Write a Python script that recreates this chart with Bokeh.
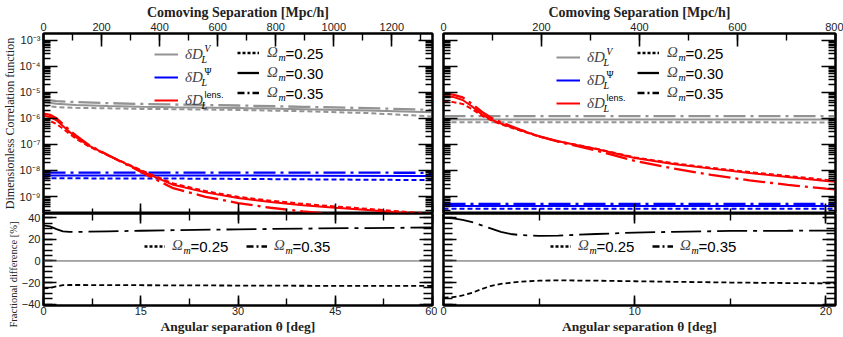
import numpy as np
from bokeh.plotting import figure
from bokeh.layouts import gridplot
from bokeh.models import (Range1d, LinearAxis, LogAxis, FixedTicker, SingleIntervalTicker,
                          CustomJSTickFormatter, Legend, LegendItem, Label, Span, Grid, Title)
from bokeh.core.properties import value
from bokeh.embed import file_html
from bokeh.resources import INLINE

# ------------------------------------------------------------------ data
# values of the correlation functions are given as log10
# ---- left panel (theta in deg)
theta_L = [0, 1, 2, 3, 4, 5, 7, 10, 13, 16, 20, 25, 30, 35, 40, 45, 50, 55, 60]
lens_L_025 = [-6.05, -6.10, -6.22, -6.40, -6.60, -6.78, -7.08, -7.43, -7.76, -8.09, -8.50,
              -8.79, -9.01, -9.16, -9.28, -9.38, -9.47, -9.57, -9.67]
lens_L_030 = [-5.90, -5.95, -6.08, -6.30, -6.52, -6.72, -7.05, -7.42, -7.78, -8.12, -8.55,
              -8.84, -9.06, -9.21, -9.33, -9.43, -9.52, -9.62, -9.72]
lens_L_035 = [-5.82, -5.87, -6.00, -6.22, -6.45, -6.66, -7.02, -7.42, -7.80, -8.18, -8.68,
              -9.01, -9.25, -9.43, -9.57, -9.68, -9.78, -9.88, -9.97]
theta_Lg = [0, 2, 5, 10, 15, 20, 30, 40, 50, 60]
vel_L_025 = [-5.52, -5.57, -5.60, -5.62, -5.64, -5.65, -5.68, -5.73, -5.80, -5.93]
vel_L_030 = [-5.38, -5.44, -5.49, -5.53, -5.56, -5.58, -5.61, -5.65, -5.70, -5.77]
vel_L_035 = [-5.28, -5.34, -5.38, -5.42, -5.45, -5.47, -5.51, -5.56, -5.61, -5.68]
theta_Lb = [0, 20, 40, 60]
pot_L_025 = [-8.30, -8.31, -8.34, -8.37]
pot_L_030 = [-8.19, -8.19, -8.20, -8.21]
pot_L_035 = [-8.08, -8.08, -8.08, -8.09]
theta_Lf = [0, 1, 2, 3, 4, 6, 10, 15, 20, 30, 40, 50, 60]
frac_L_025 = [-25.3, -25.0, -23.5, -22.5, -22.3, -22.3, -22.4, -22.5, -22.6, -22.8, -23.0, -23.1, -23.2]
frac_L_035 = [33.0, 32.0, 29.5, 27.5, 27.0, 27.0, 27.5, 28.0, 28.5, 29.3, 30.0, 30.5, 31.0]

# ---- right panel (theta in deg)
theta_R = [0, 0.5, 1, 1.5, 2, 2.5, 3, 4, 5, 6, 7, 8, 10, 12, 14, 16, 18, 20, 20.5]
lens_R_025 = [-5.35, -5.38, -5.45, -5.65, -5.90, -6.08, -6.23, -6.47, -6.70, -6.88, -7.02,
              -7.17, -7.50, -7.72, -7.90, -8.06, -8.21, -8.36, -8.39]
lens_R_030 = [-5.15, -5.18, -5.30, -5.55, -5.85, -6.05, -6.20, -6.45, -6.69, -6.88, -7.03,
              -7.18, -7.52, -7.75, -7.93, -8.10, -8.25, -8.40, -8.43]
lens_R_035 = [-5.06, -5.09, -5.20, -5.45, -5.75, -5.98, -6.15, -6.43, -6.69, -6.90, -7.07,
              -7.24, -7.63, -7.92, -8.17, -8.38, -8.55, -8.70, -8.73]
theta_Rg = [0, 10, 20.5]
vel_R_025 = [-6.15, -6.15, -6.16]
vel_R_030 = [-6.05, -6.05, -6.05]
vel_R_035 = [-5.92, -5.92, -5.92]
pot_R_025 = [-9.47, -9.47, -9.47]
pot_R_030 = [-9.36, -9.36, -9.36]
pot_R_035 = [-9.28, -9.28, -9.28]
theta_Rf = [0, 0.5, 1, 1.5, 2, 2.5, 3, 3.5, 4, 5, 6, 8, 10, 12, 15, 18, 20.5]
frac_R_025 = [-34.0, -33.5, -32.0, -29.5, -26.0, -23.0, -21.3, -20.2, -19.3, -18.3, -18.0,
              -18.3, -18.8, -19.3, -20.0, -20.5, -20.8]
frac_R_035 = [40.0, 39.5, 38.0, 36.0, 33.0, 30.0, 27.0, 25.0, 24.0, 23.3, 23.5, 25.0,
              26.3, 27.0, 27.8, 28.0, 28.2]

omega_labels = ["0.25", "0.30", "0.35"]
quantity_sups = ["V", "Ψ", "lens."]
log_major = [10.0 ** e for e in range(-9, -2)]
log_minor = [k * 10.0 ** e for e in range(-10, -2) for k in range(2, 10)]

# ------------------------------------------------------------------ styles
GREY, BLUE, RED = "#939393", "#0000ff", "#ff0000"
DASH = {"0.25": "5 3", "0.30": "solid", "0.35": "22 5 3 5"}
FRAC_DASH = {"0.25": "5 3", "0.35": "30 6 4 6"}
LEG_DASH = {"0.25": "3 2", "0.30": "solid", "0.35": "7 3 2 3"}
TICKFONT = "Liberation Sans"
SERIF = "Liberation Serif"

LOG_FMT = CustomJSTickFormatter(code="""
const sup = {"-":"\u207b","0":"\u2070","1":"\u00b9","2":"\u00b2","3":"\u00b3","4":"\u2074",
             "5":"\u2075","6":"\u2076","7":"\u2077","8":"\u2078","9":"\u2079"};
const e = Math.round(Math.log10(tick));
return "10" + String(e).split("").map(c => sup[c]).join("");
""")


def style_axis(ax, labels, major_in=12, minor_in=6, standoff=2):
    ax.major_tick_in = major_in
    ax.major_tick_out = 0
    ax.minor_tick_in = minor_in
    ax.minor_tick_out = 0
    ax.axis_line_color = "black"
    ax.axis_line_width = 2
    ax.major_tick_line_color = "black"
    ax.major_tick_line_width = 1.6
    ax.minor_tick_line_color = "black"
    ax.minor_tick_line_width = 1.4
    if labels:
        ax.major_label_text_font = TICKFONT
        ax.major_label_text_font_size = "11px"
        ax.major_label_text_color = "#222222"
        ax.major_label_standoff = standoff
    else:
        ax.major_label_text_font_size = "1px"
        ax.major_label_text_color = None
        ax.major_label_standoff = 0


def axis_title(ax, text, size, standoff=1, bold=True):
    ax.axis_label = text
    ax.axis_label_text_font = SERIF
    ax.axis_label_text_font_size = size
    ax.axis_label_text_font_style = "bold" if bold else "normal"
    ax.axis_label_text_color = "#222222"
    ax.axis_label_standoff = standoff


def base_fig(width, height, xr, yr, ylog, bl, br, bt, bb):
    p = figure(width=width, height=height, x_range=xr, y_range=yr,
               y_axis_type="log" if ylog else "linear",
               x_axis_location=None, y_axis_location=None,
               toolbar_location=None, output_backend="svg",
               min_border_left=bl, min_border_right=br,
               min_border_top=bt, min_border_bottom=bb,
               outline_line_color="black", outline_line_width=2,
               background_fill_color="white", border_fill_color="white")
    for r in p.center:
        if isinstance(r, Grid):
            r.visible = False
    return p


def lab(p, x, y, text, size, font=SERIF, style="normal", align="left", baseline="middle",
        color="black"):
    p.add_layout(Label(x=x, y=y, x_units="screen", y_units="screen", text=text,
                       text_font=font, text_font_size=size, text_font_style=style,
                       text_align=align, text_baseline=baseline, text_color=color))


def side_title(p, text, size, align, offset):
    p.add_layout(Title(text=text, align=align, offset=offset, standoff=0,
                       text_font=SERIF, text_font_size=size, text_font_style="normal",
                       text_color="#222222"), "left")


TOP_FH, BOT_FH = 180, 92
TOP_BT, BOT_BB = 33, 32


def top_panel(width, bl, br, xmax, cmax, theta, lens, theta_g, vel, theta_b, pot,
              show_ylabels, leg1, leg2_x):
    p = base_fig(width, TOP_BT + TOP_FH, Range1d(0, xmax),
                 Range1d(10 ** -9.65, 10 ** -2.75), True, bl, br, TOP_BT, 0)
    p.extra_x_ranges = {"com": Range1d(0, cmax)}
    ax = LogAxis(ticker=FixedTicker(ticks=log_major, minor_ticks=log_minor))
    style_axis(ax, show_ylabels, 14, 7, 3)
    if show_ylabels:
        ax.formatter = LOG_FMT
    p.add_layout(ax, "left")
    ax = LogAxis(ticker=FixedTicker(ticks=log_major, minor_ticks=log_minor))
    style_axis(ax, False, 14, 7)
    p.add_layout(ax, "right")
    step = 15 if xmax > 30 else 10
    ax = LinearAxis(ticker=SingleIntervalTicker(interval=step, num_minor_ticks=2))
    style_axis(ax, False, 10, 5)
    p.add_layout(ax, "below")
    ax = LinearAxis(x_range_name="com", ticker=SingleIntervalTicker(interval=200, num_minor_ticks=2))
    style_axis(ax, True, 13, 7, 3)
    axis_title(ax, "Comoving Separation [Mpc/h]", "14px", 0)
    p.add_layout(ax, "above")
    if show_ylabels:
        side_title(p, "Dimensionless Correlation function", "12px", "center", 0)

    solid = {}
    for color, th, series in ((GREY, theta_g, vel), (BLUE, theta_b, pot), (RED, theta, lens)):
        for om, vals in zip(omega_labels, series):
            r = p.line(th, 10.0 ** np.array(vals), line_color=color,
                       line_width=2.3 if om == "0.35" else 2.0, line_dash=DASH[om])
            if om == "0.30":
                solid[color] = r

    # legend 1 : quantities
    leg1_x, leg1_y = leg1
    items = [LegendItem(label=value("δD"), renderers=[solid[c]]) for c in (GREY, BLUE, RED)]
    leg = Legend(items=items, location=(leg1_x, leg1_y), orientation="vertical",
                 padding=0, margin=0, spacing=3, glyph_width=24, glyph_height=20,
                 label_height=20, label_standoff=7, label_text_font=SERIF,
                 label_text_font_style="italic", label_text_font_size="15px",
                 background_fill_alpha=0, border_line_alpha=0)
    p.add_layout(leg)
    x0 = leg1_x + 24 + 7
    for i, sup in enumerate(quantity_sups):
        rc = leg1_y + 66 - 10 - 23 * i
        lab(p, x0 + 16, rc - 5, "L", "10px", style="italic")
        if sup == "lens.":
            lab(p, x0 + 19, rc + 6, sup, "9px", font=TICKFONT)
        elif sup == "V":
            lab(p, x0 + 19, rc + 6, sup, "9.5px", style="italic")
        else:
            lab(p, x0 + 19, rc + 6, sup, "9.5px")

    # legend 2 : Omega_m (legend-only copies of the lensing curves, hidden in the plot)
    rends = [p.line(theta, 10.0 ** np.array(vals), line_color="black", line_width=2.3,
                    line_dash=LEG_DASH[om], visible=False)
             for om, vals in zip(omega_labels, lens)]
    items = [LegendItem(label=value("Ω"), renderers=[r]) for r in rends]
    leg = Legend(items=items, location=(leg2_x, 112), orientation="vertical",
                 padding=0, margin=0, spacing=3, glyph_width=22, glyph_height=17,
                 label_height=17, label_standoff=8, label_text_font=SERIF,
                 label_text_font_style="italic", label_text_font_size="15px",
                 background_fill_alpha=0, border_line_alpha=0, inactive_fill_alpha=0)
    p.add_layout(leg)
    x0 = leg2_x + 22 + 8
    for i, om in enumerate(omega_labels):
        rc = 160.5 - 20 * i
        lab(p, x0 + 11, rc - 4, "m", "10px", style="italic")
        lab(p, x0 + 18, rc, "=" + om, "15px", font=TICKFONT)
    return p


def bottom_panel(width, bl, br, xmax, theta_f, f25, f35, show_ylabels, leg_x):
    p = base_fig(width, BOT_FH + BOT_BB, Range1d(0, xmax), Range1d(-41.3, 44), False,
                 bl, br, 0, BOT_BB)
    ax = LinearAxis(ticker=SingleIntervalTicker(interval=20, num_minor_ticks=4))
    style_axis(ax, show_ylabels, 13, 9, 3)
    p.add_layout(ax, "left")
    if show_ylabels:
        side_title(p, "Fractional difference [%]", "10.5px", "left", -22)
    ax = LinearAxis(ticker=SingleIntervalTicker(interval=20, num_minor_ticks=4))
    style_axis(ax, False, 13, 9)
    p.add_layout(ax, "right")
    step = 15 if xmax > 30 else 10
    ax = LinearAxis(ticker=SingleIntervalTicker(interval=step, num_minor_ticks=2))
    style_axis(ax, False, 10, 7)
    p.add_layout(ax, "above")
    ax = LinearAxis(ticker=SingleIntervalTicker(interval=step, num_minor_ticks=2))
    style_axis(ax, True, 10, 7, 1)
    axis_title(ax, "Angular separation θ [deg]", "13.5px", 1)
    p.add_layout(ax, "below")

    p.add_layout(Span(location=0, dimension="width", line_color="#555555", line_width=1))
    p.line(theta_f, f25, line_color="black", line_width=1.8, line_dash=FRAC_DASH["0.25"])
    p.line(theta_f, f35, line_color="black", line_width=1.8, line_dash=FRAC_DASH["0.35"])

    rends = [p.line(theta_f, f, line_color="black", line_width=2.3, line_dash=LEG_DASH[om],
                    visible=False)
             for om, f in (("0.25", f25), ("0.35", f35))]
    items = [LegendItem(label=value("Ω"), renderers=[r]) for r in rends]
    leg = Legend(items=items, location=(leg_x, 51), orientation="horizontal",
                 padding=0, margin=0, spacing=8, glyph_width=21, glyph_height=16,
                 label_height=16, label_width=66, label_standoff=7, label_text_font=SERIF,
                 label_text_font_style="italic", label_text_font_size="15px",
                 background_fill_alpha=0, border_line_alpha=0, inactive_fill_alpha=0)
    p.add_layout(leg)
    for k, om in enumerate(("0.25", "0.35")):
        x0 = leg_x + 102 * k + 28
        lab(p, x0 + 11, 59 - 4, "m", "10px", style="italic")
        lab(p, x0 + 18, 59, "=" + om, "15px", font=TICKFONT)
    return p


# left column: border 42 + frame 390 + 5 ; right column: 6 + frame 392 + 8
tl = top_panel(437, 42, 5, 60, 1340, theta_L, [lens_L_025, lens_L_030, lens_L_035],
               theta_Lg, [vel_L_025, vel_L_030, vel_L_035],
               theta_Lb, [pot_L_025, pot_L_030, pot_L_035], True, (111, 103), 194)
tr = top_panel(406, 6, 8, 20.5, 800, theta_R, [lens_R_025, lens_R_030, lens_R_035],
               theta_Rg, [vel_R_025, vel_R_030, vel_R_035],
               theta_Rg, [pot_R_025, pot_R_030, pot_R_035], False, (113, 100), 194)
bl = bottom_panel(437, 42, 5, 60, theta_Lf, frac_L_025, frac_L_035, True, 101)
br = bottom_panel(406, 6, 8, 20.5, theta_Rf, frac_R_025, frac_R_035, False, 107)

layout = gridplot([[tl, tr], [bl, br]], toolbar_location=None)

with open("out.html", "w") as f:
    f.write(file_html(layout, INLINE))
